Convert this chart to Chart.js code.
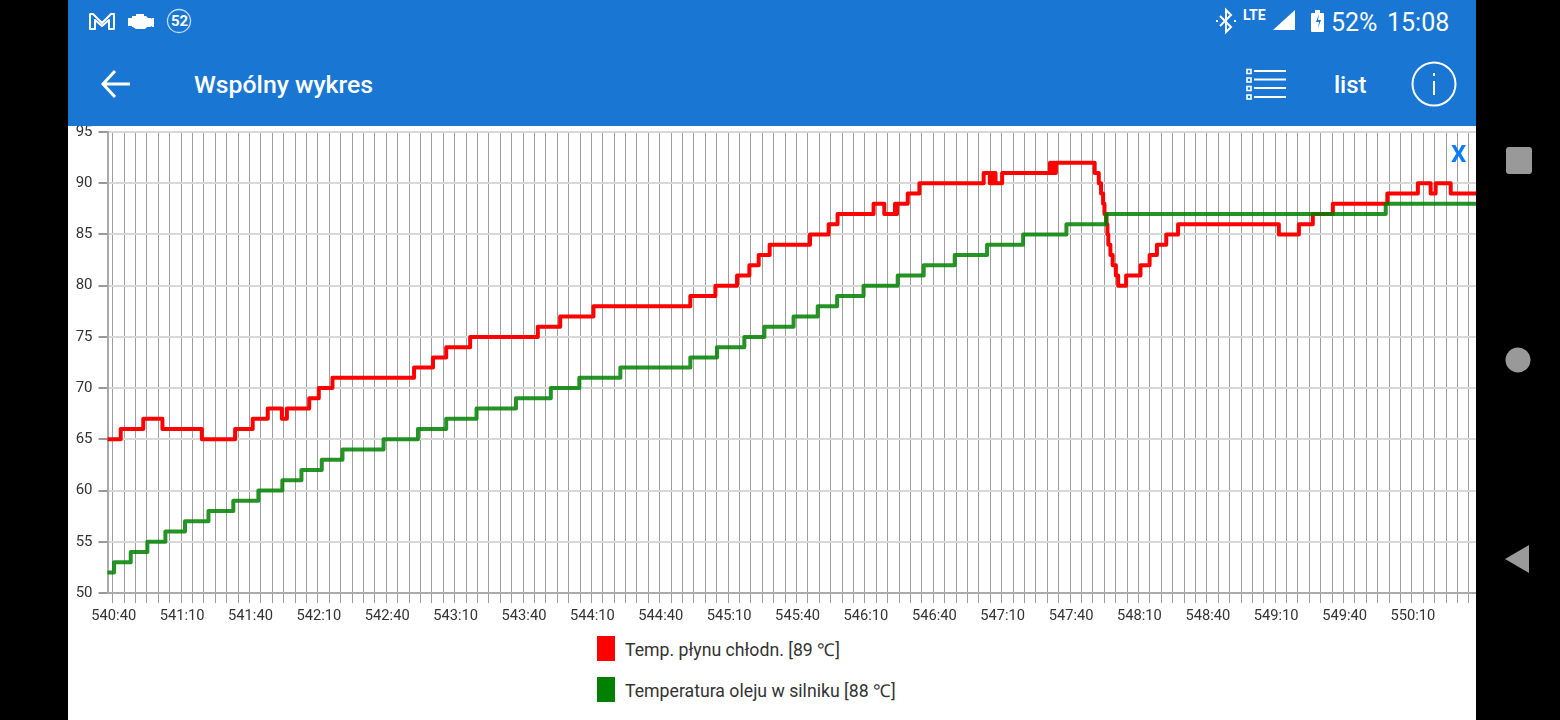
<!DOCTYPE html>
<html>
<head>
<meta charset="utf-8">
<title>Wspólny wykres</title>
<script src="https://cdn.jsdelivr.net/npm/chart.js@4"></script>
<style>
    html, body { margin: 0; padding: 0; background: #000; width: 1560px; height: 720px; overflow: hidden; font-family: Roboto, sans-serif; }
    #screen { position: absolute; left: 68px; top: 0; width: 1408px; height: 720px; background: #fff; overflow: hidden; }
    #topbar { position: absolute; left: 0; top: 0; width: 1408px; height: 126px; background: #1976d2; z-index: 2; }
    #chartCanvas { position: absolute; left: 0; top: 126px; z-index: 1; }
    .bar-text { position: absolute; color: #fff; white-space: nowrap; line-height: 1; }
    #closeX { position: absolute; left: 1383px; top: 142px; color: #0a7cf5; font: 700 24px Roboto, sans-serif; line-height: 1; z-index: 3; }
    .legend-row { position: absolute; left: 529px; height: 25px; display: flex; align-items: center; font-size: 17.700px; color: #333; white-space: nowrap; }
    .legend-box { width: 18px; height: 25px; margin-right: 10px; }
    svg { position: absolute; left: 0; top: 0; }
</style>
</head>
<body>
<div id="screen">
    <div id="topbar">
        <svg width="1408" height="126" fill="none" stroke="#fff">
            <path d="M22 29V14h3l9 9 9-9h3v15h-5V20l-7 6-7-6v9z" stroke-width="2" stroke-linejoin="round"/>
            <path d="M60 18h4v-2h4v-2h8v2h2l2 2h3l1 1v-1h2v9h-2v-1l-2 1h-3l-2 2H68l-3-2h-1v-1h-4z" fill="#fff" stroke="none"/>
            <circle cx="111" cy="21" r="11.500" stroke-width="1.300" stroke-opacity=".75"/>
            <path d="M1152 16l11 11-5 5V10l5 5-11 11" stroke-width="2"/>
            <path d="M1148 21h2M1166 21h2" stroke-width="2"/>
            <path d="M1205 30h22V10z" fill="#fff" stroke="none"/>
            <path d="M1244 13h3v-3h5v3h3q1 0 1 1v17q0 1-1 1h-11q-1 0-1-1V14q0-1 1-1z" fill="#fff" stroke="none"/>
            <path d="M1251 14l-3 8h3l-1 6 3-8h-3z" fill="#1976d2" stroke="none"/>
            <path d="M62 84h-27M47 71L35 84l12 13" stroke-width="3"/>
            <g stroke-width="1.600">
                <rect x="1179" y="69.500" width="4" height="4"/><rect x="1179" y="78" width="4" height="4"/>
                <rect x="1179" y="86.500" width="4" height="4"/><rect x="1179" y="95" width="4" height="4"/>
            </g>
            <path d="M1186 71h32M1186 79.500h32M1186 88h32M1186 97h32" stroke-width="2"/>
            <circle cx="1366" cy="84" r="21.500" stroke-width="2"/>
            <path d="M1366 81v14M1366 73v3" stroke-width="2"/>
        </svg>
        <div class="bar-text" style="left:103px;top:14px;font-size:15px;font-weight:700;">52</div>
        <div class="bar-text" style="left:1175px;top:8px;font-size:14px;font-weight:700;">LTE</div>
        <div class="bar-text" style="left:1263px;top:10px;font-size:25px;">52%</div>
        <div class="bar-text" style="left:1319px;top:10px;font-size:25px;">15:08</div>
        <div class="bar-text" style="left:126px;top:73px;font-size:24.800px;font-weight:500;">Wspólny wykres</div>
        <div class="bar-text" style="left:1266px;top:73px;font-size:24px;font-weight:500;">list</div>
    </div>
    <canvas id="chartCanvas" width="1408" height="594"></canvas>
    <div id="closeX">X</div>
    <div id="legend"></div>
</div>
<svg width="1560" height="720" style="pointer-events:none">
    <rect x="1506" y="147" width="26" height="27" rx="3" fill="#999"/>
    <circle cx="1518" cy="360" r="12.500" fill="#999"/>
    <path d="M1529 545v28l-24-14z" fill="#999"/>
</svg>
<script>
// seconds since 540:40
const startSeconds = 540 * 60 + 40;
const axisMin = -2.3;
const axisMax = 598.1;
const coolantTimes = [
    -2.5, 3.5, 13.4, 21.8, 39.1, 53.7, 61.4, 68.0, 74.2, 76.4, 86.2, 90.4, 96.4,
    132.2, 140.5, 146.3, 156.8, 186.5, 196.3, 210.9, 253.4, 264.4, 273.9, 279.3, 283.4, 288.2,
    305.9, 314.1, 318.0, 333.8, 338.5, 343.2, 343.7, 344.1, 348.8, 353.9,
    382.1, 384.8, 385.3, 385.9, 386.6, 387.3, 390.2, 411.2, 411.8, 412.5, 413.2, 413.8,
    430.8, 432.6, 433.6, 434.5, 435.1, 436.0, 436.4, 436.8, 437.7, 438.7, 440.1, 441.1,
    444.6, 450.9, 454.9, 458.1, 462.2, 467.4, 511.6, 520.4, 526.5, 535.3, 559.2, 572.6,
    578.2, 580.4, 587.0, 599
];
const coolantTemps = [
    65, 66, 67, 66, 65, 66, 67, 68, 67, 68, 69, 70, 71,
    72, 73, 74, 75, 76, 77, 78, 79, 80, 81, 82, 83, 84,
    85, 86, 87, 88, 87, 88, 87, 88, 89, 90,
    91, 90, 91, 90, 91, 90, 91, 92, 91, 92, 91, 92,
    91, 90, 89, 88, 87, 86, 85, 84, 83, 82, 81, 80,
    81, 82, 83, 84, 85, 86, 85, 86, 87, 88, 89, 90,
    89, 90, 89, 89
];
const oilTimes = [
    -2.5, 0.6, 7.9, 15.2, 23.1, 31.7, 42.0, 52.9, 63.9, 74.4, 82.8, 91.7, 100.8,
    118.8, 133.9, 146.3, 159.6, 176.9, 192.2, 204.7, 222.7, 253.4, 265.1, 277.1, 285.9, 298.7,
    309.3, 317.8, 329.4, 344.4, 355.8, 369.4, 383.6, 399.4, 418.4, 435.8, 558.5, 599
];
const oilTemps = [
    52, 53, 54, 55, 56, 57, 58, 59, 60, 61, 62, 63, 64,
    65, 66, 67, 68, 69, 70, 71, 72, 73, 74, 75, 76, 77,
    78, 79, 80, 81, 82, 83, 84, 85, 86, 87, 88, 88
];
const coolantLabel = 'Temp. płynu chłodn. [89 ℃]';
const oilLabel = 'Temperatura oleju w silniku [88 ℃]';
const tickSeconds = [];
for (let s = 0; s <= axisMax; s += 5) tickSeconds.push(s);

function formatTime(value) {
    const total = startSeconds + value;
    const min = Math.floor(total / 60);
    const sec = total - min * 60;
    return min + ':' + String(sec).padStart(2, '0');
}

function toPoints(times, temps) {
    return times.map((t, i) => ({ x: t, y: temps[i] }));
}

function renderLegend(items) {
    const legend = document.getElementById('legend');
    items.forEach((item, i) => {
        const row = document.createElement('div');
        row.className = 'legend-row';
        row.style.top = (636 + i * 41) + 'px';
        row.innerHTML = `<div class="legend-box" style="background:${item.color}"></div><span>${item.label}</span>`;
        legend.appendChild(row);
    });
}

renderLegend([
    { label: coolantLabel, color: '#ff0000' },
    { label: oilLabel, color: '#008000' }
]);

new Chart(document.getElementById('chartCanvas').getContext('2d'), {
    type: 'line',
    data: {
        datasets: [{
            label: coolantLabel,
            data: toPoints(coolantTimes, coolantTemps),
            borderColor: '#ff0000',
            borderWidth: 4,
            borderJoinStyle: 'round',
            stepped: true,
            pointRadius: 0,
            order: 2
        }, {
            label: oilLabel,
            data: toPoints(oilTimes, oilTemps),
            borderColor: 'rgba(0, 128, 0, 0.85)',
            borderWidth: 4,
            borderJoinStyle: 'round',
            stepped: true,
            pointRadius: 0,
            order: 1
        }]
    },
    options: {
        responsive: false,
        animation: false,
        devicePixelRatio: 1,
        layout: { padding: { top: 6, left: 0, right: 0, bottom: 0 } },
        plugins: { legend: { display: false }, tooltip: { enabled: false } },
        scales: {
            x: {
                type: 'linear',
                min: axisMin,
                max: axisMax,
                afterBuildTicks: axis => { axis.ticks = tickSeconds.map(v => ({ value: v })); },
                afterFit: axis => { axis.height = 127; axis.paddingLeft = 0; axis.paddingRight = 0; },
                grid: { color: '#9c9c9c', lineWidth: 1, tickLength: 10, tickColor: '#9c9c9c' },
                border: { color: '#aaaaaa', width: 2 },
                ticks: {
                    autoSkip: false,
                    maxRotation: 0,
                    minRotation: 0,
                    padding: 5,
                    labelOffset: 1,
                    color: '#333333',
                    font: { family: 'Roboto', size: 14.7 },
                    callback: value => (value % 30 === 0 ? formatTime(value) : '')
                }
            },
            y: {
                min: 50,
                max: 95,
                afterFit: axis => { axis.width = 39.5; axis.paddingTop = 0; axis.paddingBottom = 0; },
                grid: { color: '#d8d8d8', lineWidth: 2, tickLength: 9, tickColor: '#999999' },
                border: { color: '#aaaaaa', width: 2 },
                ticks: {
                    stepSize: 5,
                    padding: 6,
                    color: '#333333',
                    font: { family: 'Roboto', size: 15 }
                }
            }
        }
    }
});
</script>
</body>
</html>
